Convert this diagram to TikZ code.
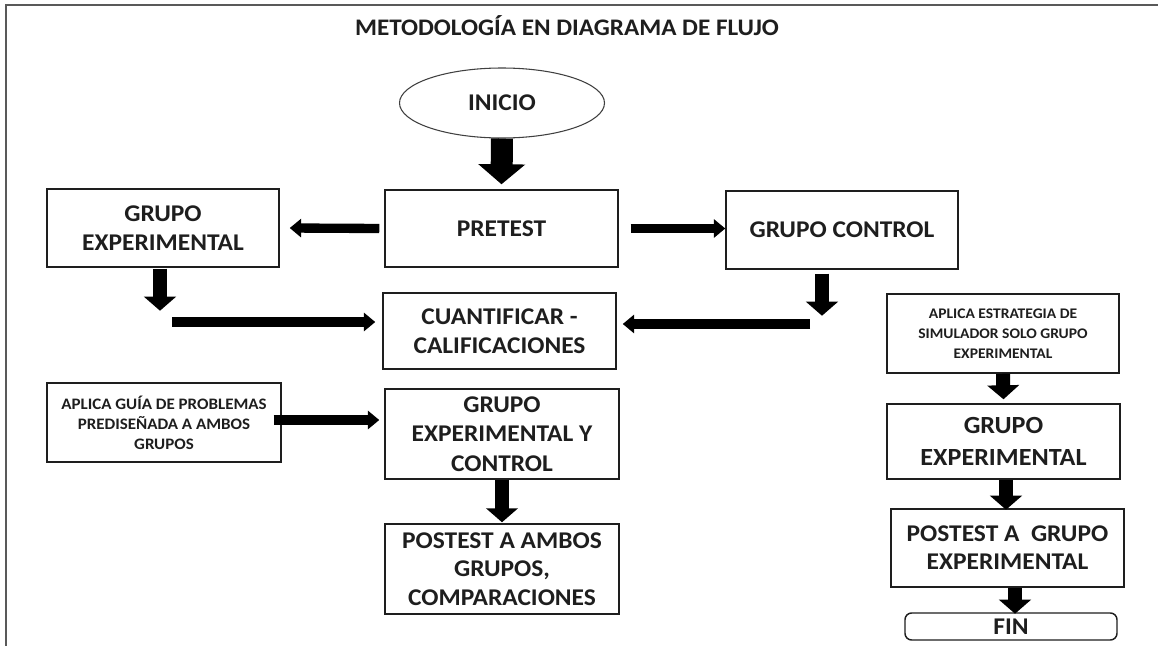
\documentclass[tikz,border=0pt]{standalone}
\usepackage{fontspec}
\setmainfont{Carlito}[FakeStretch=1.06]
\usetikzlibrary{arrows.meta,calc,shapes.geometric}
\definecolor{ink}{HTML}{1E1E1E}
\tikzset{
  box/.style={draw=ink,line width=1.1pt,inner sep=0pt,align=center,text=ink,
    font=\bfseries\fontsize{18}{22}\selectfont},
  smallbox/.style={box,font=\bfseries\fontsize{12}{15}\selectfont},
  harrow/.style={draw=black,line width=7pt,-{Triangle[width=13.5pt,length=8.5pt]}},
  varrow/.style={draw=black,line width=10.5pt,-{Triangle[width=23.5pt,length=10.5pt]}},
  bigarrow/.style={draw=black,line width=16.5pt,-{Triangle[width=34.5pt,length=15pt]}},
  frame/.style={draw=black!65,line width=0.8pt}
}
\begin{document}
\begin{tikzpicture}[x=0.75pt,y=-0.75pt]
\useasboundingbox (0,0) rectangle (1158,646);
\fill[white] (0,0) rectangle (1158,646);
\draw[frame] (1158,5) -- (6,5) -- (6,646);

\node[anchor=base,text=ink,font=\bfseries\fontsize{17.8}{20}\selectfont] (title) at (567,36) {METODOLOGÍA EN DIAGRAMA DE FLUJO};

\node[box,ellipse,draw=black!75,line width=0.8pt,minimum width=153.75pt,minimum height=52.5pt] (inicio) at (502,103) {INICIO};

\node[box,minimum width=174pt,minimum height=58.5pt] (ge) at (163,228) {GRUPO\\EXPERIMENTAL};
\node[box,minimum width=174.75pt,minimum height=57.75pt] (pretest) at (501.5,228.5) {PRETEST};
\node[box,minimum width=174pt,minimum height=58.5pt] (gc) at (842,230) {GRUPO CONTROL};
\node[box,minimum width=174.75pt,minimum height=57pt] (cuant) at (499.5,331) {CUANTIFICAR -\\CALIFICACIONES};
\node[smallbox,minimum width=175.5pt,minimum height=59.25pt] (aplica1) at (164,422.5) {APLICA GUÍA DE PROBLEMAS\\PREDISEÑADA A AMBOS\\GRUPOS};
\node[box,minimum width=175.5pt,minimum height=67.5pt] (gexpc) at (502,434) {GRUPO\\EXPERIMENTAL Y\\CONTROL};
\node[box,minimum width=175.5pt,minimum height=67.5pt,font=\bfseries\fontsize{18}{21.5}\selectfont] (post1) at (502,569) {POSTEST A AMBOS\\GRUPOS,\\COMPARACIONES};

\node[smallbox,font=\bfseries\fontsize{11}{15}\selectfont,minimum width=174pt,minimum height=59.25pt] (aplica2) at (1003,333.5) {APLICA ESTRATEGIA DE\\SIMULADOR SOLO GRUPO\\EXPERIMENTAL};
\node[box,minimum width=174.75pt,minimum height=56.25pt,font=\bfseries\fontsize{18.5}{24}\selectfont] (gexp2) at (1003.5,441.5) {GRUPO\\EXPERIMENTAL};
\node[box,minimum width=174.75pt,minimum height=58.5pt,font=\bfseries\fontsize{18}{21}\selectfont] (post2) at (1007.5,548) {POSTEST A \ GRUPO\\EXPERIMENTAL};
\node[box,rounded corners=5pt,minimum width=159pt,minimum height=20.25pt] (fin) at (1011,626.5) {FIN};

% connectors
\draw[bigarrow] (inicio.south) -- ($(pretest.north)+(0,-5)$);
\draw[harrow] ($(pretest.west)+(-5,0)$) -- ($(ge.east)+(10,0)$);
\draw[harrow] ($(pretest.east)+(12,0)$) -- (gc.west |- pretest.east);
\coordinate (geb) at ($(ge.south)+(-3,43)$);
\draw[varrow] ($(ge.south)+(-3,1)$) -- (geb);
\coordinate (gcb) at ($(gc.south)+(-20,46)$);
\draw[varrow] ($(gc.south)+(-20,4)$) -- (gcb);
\coordinate (lstart) at (172,322);
\draw[harrow] (lstart) -- ($(cuant.west)+(-7,-9)$);
\coordinate (rstart) at (810,324);
\draw[harrow] (rstart) -- ($(cuant.east)+(6,-7)$);
\draw[harrow] ($(aplica1.east)+(-8,-2.5)$) -- ($(gexpc.west)+(-5,-14)$);
\draw[varrow] (gexpc.south) -- ($(post1.north)+(0,-1)$);
\draw[varrow] (aplica2.south) -- ($(gexp2.north)+(0,-4)$);
\draw[varrow] ($(gexp2.south)+(2.5,0)$) -- ($(gexp2.south)+(2.5,30)$);
\draw[varrow] ($(post2.south)+(7.5,0)$) -- ($(post2.south)+(7.5,26)$);
\end{tikzpicture}
\end{document}
